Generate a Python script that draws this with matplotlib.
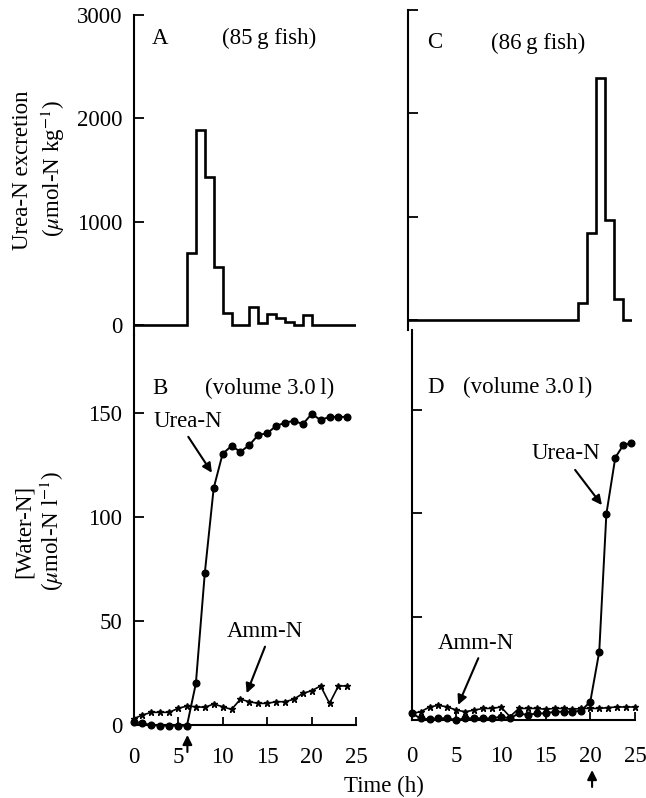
import matplotlib
matplotlib.use('Agg')
import matplotlib.pyplot as plt
import numpy as np

plt.rcParams['font.family'] = ['Liberation Serif', 'DejaVu Serif']
plt.rcParams['mathtext.fontset'] = 'stix'

# ---------------- data ----------------
hour_edges = [0, 1, 2, 3, 4, 5, 6, 7, 8, 9, 10, 11, 12, 13, 14, 15, 16, 17, 18, 19, 20, 21, 22, 23, 24, 25]
excretion_A = [0, 0, 0, 0, 0, 0, 700, 1890, 1430, 560, 120, 0, 0, 170, 20, 110, 65, 30, 0, 100, 0, 0, 0, 0, 0]
excretion_C = [0, 0, 0, 0, 0, 0, 0, 0, 0, 0, 0, 0, 0, 0, 0, 0, 0, 0, 0, 160, 840, 2340, 970, 200, 0]

time_B = [0, 1, 2, 3, 4, 5, 6, 7, 8, 9, 10, 11, 12, 13, 14, 15, 16, 17, 18, 19, 20, 21, 22, 23, 24]
urea_B = [1.6, 0.8, 0.0, -0.3, -0.3, -0.3, -0.3, 20, 73, 114, 130.5, 134.3, 131.5, 134.7, 139.6,
          140.4, 143.9, 145.5, 146.4, 144.8, 149.7, 146.8, 148.3, 148.3, 148.3]
amm_B = [3.0, 4.8, 6.1, 6.1, 6.1, 8.0, 9.1, 8.8, 8.5, 10.1, 8.8, 7.5, 12.4, 11.2, 10.4,
         10.4, 11.2, 11.2, 12.4, 15.2, 16.5, 18.8, 10.4, 18.8, 18.8]

time_D_urea = [0, 1, 2, 3, 4, 5, 6, 7, 8, 9, 10, 11, 12, 13, 14, 15, 16, 17, 18, 19, 20,
               21, 21.8, 22.8, 23.7, 24.6]
urea_D = [3.2, 0.8, 0.3, 0.8, 0.8, 0.0, 0.8, 0.8, 0.8, 0.8, 1.6, 0.8, 3.2, 2.4, 3.2, 3.2,
          4.0, 4.0, 4.0, 4.5, 8.9, 33, 99.7, 127, 133, 134]
time_D_amm = [0, 1, 2, 3, 4, 5, 6, 7, 8, 9, 10, 11, 12, 13, 14, 15, 16, 17, 18, 19, 20,
              21, 22, 23, 24, 25]
amm_D = [3.2, 4.0, 6.3, 7.1, 6.3, 4.8, 4.0, 4.8, 5.6, 5.6, 6.3, 1.6, 5.6, 5.6, 5.6, 5.2,
         5.6, 5.6, 5.2, 5.6, 5.6, 5.6, 6.0, 6.3, 6.3, 6.3]

excretion_ticks = [0, 1000, 2000, 3000]
water_ticks = [0, 50, 100, 150]
time_ticks = [0, 5, 10, 15, 20, 25]

# ---------------- figure ----------------
W, H = 646, 798
fig = plt.figure(figsize=(W / 100, H / 100), dpi=100)
FS = 16.5


def px_axes(x0, y_top, w, h):
    ax = fig.add_axes([x0 / W, 1 - (y_top + h) / H, w / W, h / H])
    ax.patch.set_alpha(0)
    for s in ['top', 'right']:
        ax.spines[s].set_visible(False)
    for s in ax.spines.values():
        s.set_linewidth(1.5)
    return ax


axA = px_axes(133.5, 15, 222.75, 320)
axB = px_axes(133.5, 335, 222.75, 390)
axC = px_axes(408.3, 10, 223.25, 320)
axD = px_axes(411.7, 330, 223.25, 390)

# histogram panels
for ax, vals in [(axA, excretion_A), (axC, excretion_C)]:
    ax.stairs(vals, hour_edges, color='k', lw=1.9, baseline=0)
    ax.set_xlim(0, 25)
    ax.set_ylim(-96.8, 3000)
    ax.spines['bottom'].set_visible(False)
    ax.tick_params(axis='x', bottom=False, labelbottom=False)
    ax.set_yticks(excretion_ticks)
    ax.tick_params(axis='y', direction='in', length=7, width=1.3, pad=8, labelsize=FS)
axC.tick_params(axis='y', labelleft=False)

# water-N panels
axB.plot(time_B, urea_B, color='k', lw=1.4, marker='o', ms=4.8, clip_on=False)
axB.plot(time_B, amm_B, color='k', lw=1.2, marker='*', ms=5, clip_on=False)
axD.plot(time_D_urea, urea_D, color='k', lw=1.4, marker='o', ms=4.8, clip_on=False)
axD.plot(time_D_amm, amm_D, color='k', lw=1.2, marker='*', ms=5, clip_on=False)

axB.set_ylim(0, 187.7)
axD.set_ylim(0, 188.7)
for ax, xpad in [(axB, 16), (axD, 19)]:
    ax.set_xlim(0, 25)
    ax.set_xticks(time_ticks)
    ax.set_yticks(water_ticks)
    ax.tick_params(axis='y', direction='in', length=7, width=1.3, pad=8, labelsize=FS)
    ax.tick_params(axis='x', direction='in', length=6, width=1.3, pad=xpad, labelsize=FS)
axD.tick_params(axis='y', labelleft=False)

# panel texts
txt = dict(fontsize=FS, va='center', ha='left')
axA.text(2.1, 2777, 'A', **txt)
axA.text(9.9, 2777, '(85\u2009g fish)', **txt)
axC.text(2.1, 2681, 'C', **txt)
axC.text(9.3, 2681, '(86\u2009g fish)', **txt)
axB.text(2.1, 162, 'B', **txt)
axB.text(8.0, 162, '(volume 3.0\u2009l)', **txt)
axD.text(1.8, 161, 'D', **txt)
axD.text(5.7, 161, '(volume 3.0\u2009l)', **txt)

axB.text(2.2, 146, 'Urea-N', **txt)
axB.text(10.5, 45, 'Amm-N', **txt)
axD.text(13.4, 129, 'Urea-N', **txt)
axD.text(2.9, 37, 'Amm-N', **txt)

arrow = dict(arrowstyle='-|>', color='k', lw=1.5, mutation_scale=14, shrinkA=0, shrinkB=0)
axB.annotate('', xy=(8.8, 121.4), xytext=(6.15, 138.7), arrowprops=arrow)
axB.annotate('', xy=(12.7, 15.3), xytext=(14.76, 37.7), arrowprops=arrow)
axD.annotate('', xy=(21.3, 104), xytext=(18.3, 121), arrowprops=arrow)
axD.annotate('', xy=(5.2, 7.3), xytext=(7.46, 29.9), arrowprops=arrow)

# arrows under the time axes
axB.annotate('', xy=(6.05, -4.8), xytext=(6.05, -13.0), arrowprops=arrow, annotation_clip=False)
axD.annotate('', xy=(20.2, -24.2), xytext=(20.2, -32.4), arrowprops=arrow, annotation_clip=False)

# axis labels
fig.text(23 / W, 1 - 170 / H, 'Urea-N excretion', rotation=90, ha='center', va='center', fontsize=FS)
fig.text(53 / W, 1 - 169 / H, r'($\mu$mol-N kg$^{-1}$)', rotation=90, ha='center', va='center', fontsize=FS)
fig.text(24 / W, 1 - 531 / H, '[Water-N]', rotation=90, ha='center', va='center', fontsize=FS)
fig.text(52 / W, 1 - 531 / H, r'($\mu$mol-N l$^{-1}$)', rotation=90, ha='center', va='center', fontsize=FS)
fig.text(384 / W, 1 - 786 / H, 'Time (h)', ha='center', va='center', fontsize=FS)

fig.savefig('out.png', dpi=100)
